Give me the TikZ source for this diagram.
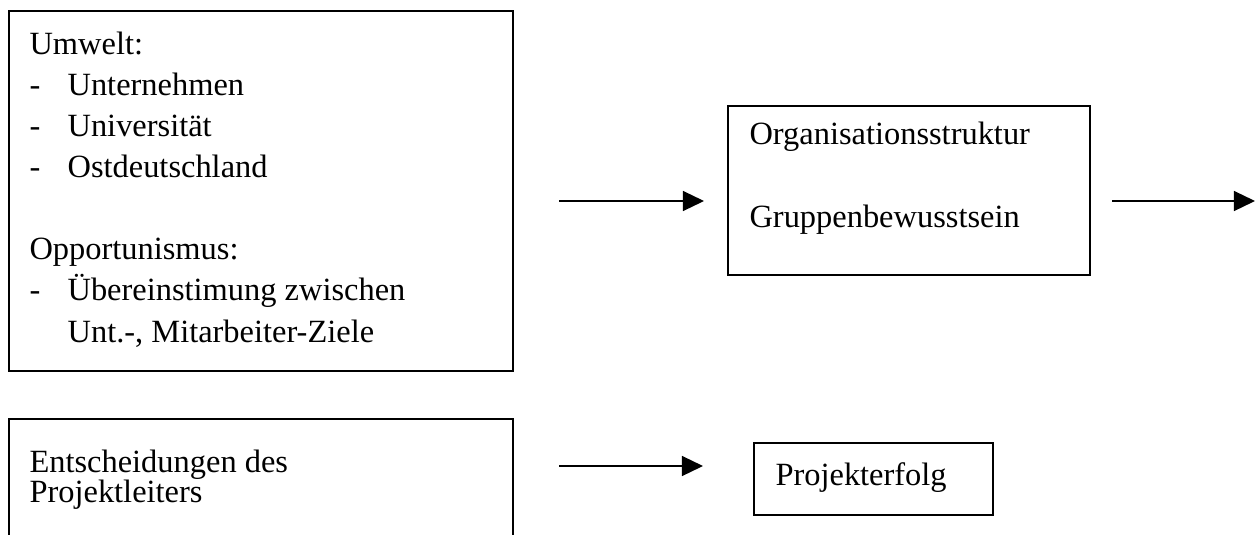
\documentclass[tikz,border=0pt]{standalone}
\usepackage{fontspec}
\setmainfont{Liberation Serif}
\usetikzlibrary{arrows.meta,positioning}
\tikzset{
	box/.style={draw, line width=0.75pt, inner sep=0pt, anchor=north west},
	boxtext/.style={align=left, inner sep=0pt, anchor=base west, font=\fontsize{12}{15.2}\selectfont},
	flow/.style={line width=0.55pt, -{Triangle[length=7.8pt,width=7.4pt]}}
}
\newcommand{\dashitem}{\makebox[14.1pt][l]{-}}

\begin{document}
\begin{tikzpicture}[x=0.37pt, y=-0.37pt]
	\useasboundingbox (0,0) rectangle (1255,534);
	\node[box, minimum width=186.48pt, minimum height=133.2pt] (umwelt) at (8,10) {};
	\node[box, minimum width=133.94pt, minimum height=62.53pt] (struktur) at (727,105) {};
	\node[box, minimum width=186.48pt, minimum height=52.54pt] (leiter) at (8,418) {};
	\node[box, minimum width=88.43pt, minimum height=26.64pt] (erfolg) at (753,442) {};
	% base anchor sits on the last line
	\node[boxtext] (umwelttext) at (29,342) {Umwelt:\\
		\dashitem Unternehmen\\
		\dashitem Universität\\
		\dashitem Ostdeutschland\\[15.2pt]
		Opportunismus:\\
		\dashitem Übereinstimung zwischen\\
		\hspace*{14.1pt}Unt.-, Mitarbeiter-Ziele};
	\node[boxtext] (strukturtext) at (749,227) {Organisationsstruktur\\[15.2pt]
		Gruppenbewusstsein};
	\node[boxtext, font=\fontsize{12}{11.1}\selectfont] (leitertext) at (29,502) {Entscheidungen des\\
		Projektleiters};
	\node[boxtext] (erfolgtext) at (775,485) {Projekterfolg};
	\coordinate (in1) at (559,201);
	\coordinate (out1) at (704,201);
	\coordinate (in2) at (1112,201);
	\coordinate (out2) at (1255,201);
	\coordinate (in3) at (559,466);
	\coordinate (out3) at (703,466);
	\draw[flow] (in1) -- (out1);
	\draw[flow] (in2) -- (out2);
	\draw[flow] (in3) -- (out3);
\end{tikzpicture}
\end{document}
